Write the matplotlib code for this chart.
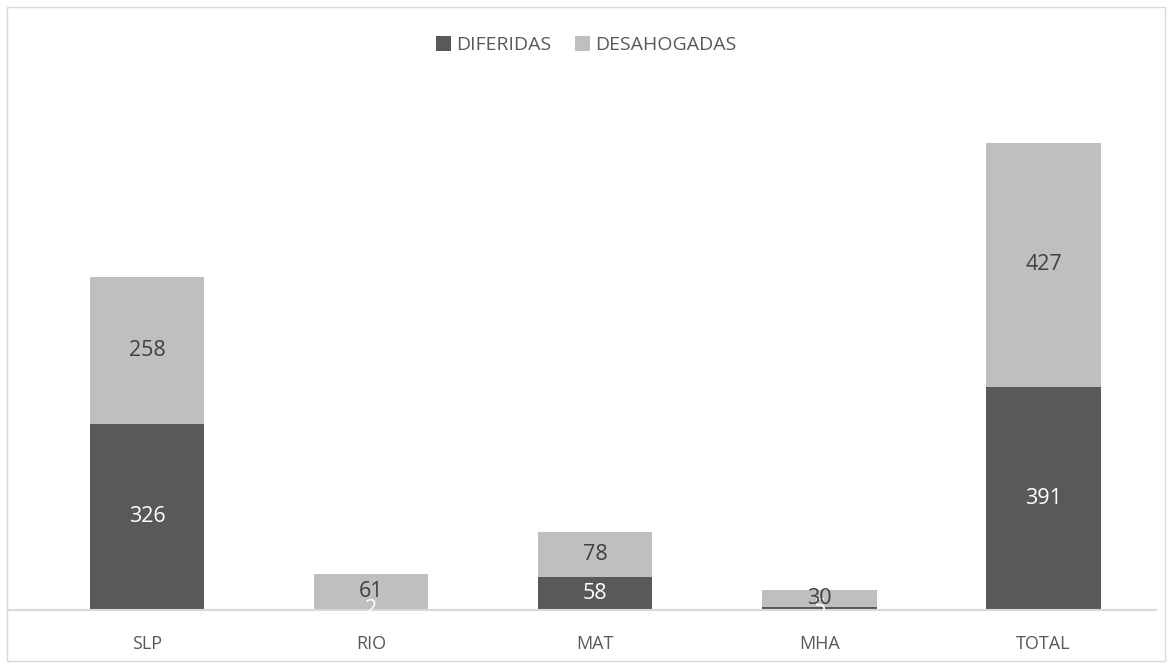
import numpy as np
import matplotlib.pyplot as plt
from matplotlib.patches import Rectangle

plt.rcParams['font.family'] = ['Open Sans', 'DejaVu Sans']

# Données
categorias = ['SLP', 'RIO', 'MAT', 'MHA', 'TOTAL']
diferidas = [326, 2, 58, 5, 391]
desahogadas = [258, 61, 78, 30, 427]

oscuro = '#595959'
claro = '#BFBFBF'

fig = plt.figure(figsize=(11.72, 6.68), dpi=100)
ax = fig.add_axes([0.007, 0.087, 0.979, 0.769])

x = np.arange(len(categorias))
ancho = 0.51
ax.bar(x, diferidas, ancho, color=oscuro, label='DIFERIDAS')
ax.bar(x, desahogadas, ancho, bottom=diferidas, color=claro, label='DESAHOGADAS')

# Etiquetas dentro de las barras
for i in range(len(categorias)):
    ax.text(x[i], diferidas[i] / 2, str(diferidas[i]), ha='center', va='center',
            color='white', fontsize=15.5)
    ax.text(x[i], diferidas[i] + desahogadas[i] / 2, str(desahogadas[i]),
            ha='center', va='center', color='#404040', fontsize=15.5)

ax.set_xlim(-0.62, 4.5)
ax.set_ylim(0, 900)
ax.set_xticks(x)
ax.set_xticklabels(categorias, fontsize=13, color=oscuro)
ax.tick_params(axis='x', length=0, pad=18)
ax.set_yticks([])
for lado in ['top', 'right', 'left']:
    ax.spines[lado].set_visible(False)
ax.spines['bottom'].set_color('#D9D9D9')
ax.spines['bottom'].set_linewidth(1.5)

fig.legend(loc='center', bbox_to_anchor=(0.5, 0.933), ncol=2, frameon=False,
           fontsize=14, handlelength=0.8, handleheight=0.8, handletextpad=0.25,
           columnspacing=1.2, labelcolor=oscuro)

# Borde de la figura
fig.patches.append(Rectangle((0.006, 0.01), 0.988, 0.98, transform=fig.transFigure,
                             fill=False, edgecolor='#D9D9D9', linewidth=1))

plt.savefig('out.png', dpi=100, facecolor='white')
